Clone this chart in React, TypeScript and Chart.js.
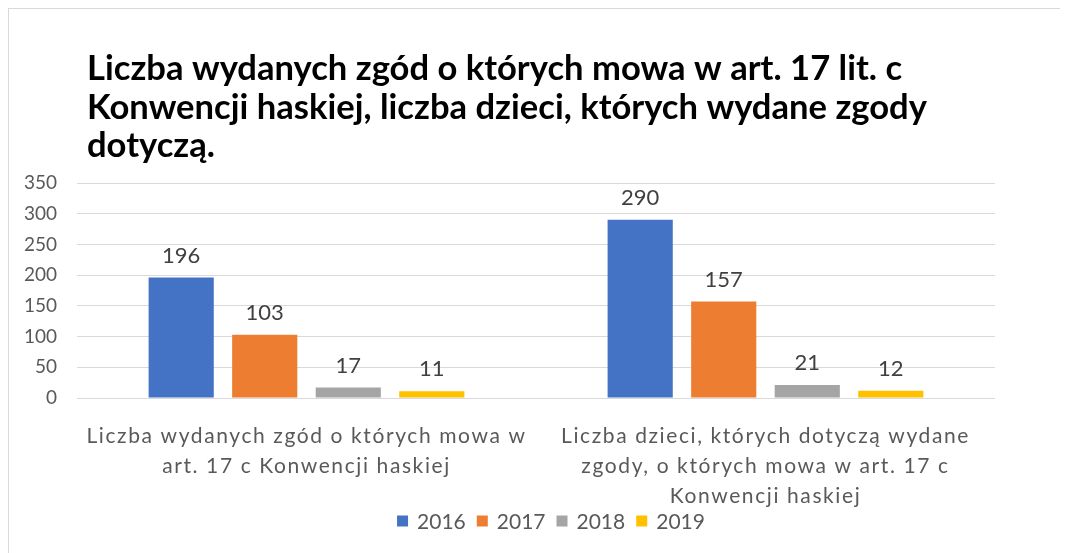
import React, { useEffect, useRef } from "react";
import { Chart, registerables } from "chart.js";

Chart.register(...registerables);

const TITLE_LINES = [
  "Liczba wydanych zgód o których mowa w art. 17 lit. c",
  "Konwencji haskiej, liczba dzieci, których wydane zgody",
  "dotyczą.",
];
const CATEGORIES = [
  ["Liczba wydanych zgód o których mowa w", "art. 17 c Konwencji haskiej"],
  ["Liczba dzieci, których dotyczą wydane", "zgody, o których mowa w art. 17 c", "Konwencji haskiej"],
];
const YEARS = ["2016", "2017", "2018", "2019"];
const VALUES_2016 = [196, 290];
const VALUES_2017 = [103, 157];
const VALUES_2018 = [17, 21];
const VALUES_2019 = [11, 12];
const SERIES = [VALUES_2016, VALUES_2017, VALUES_2018, VALUES_2019];
const COLORS = ["#4472C4", "#ED7D31", "#A5A5A5", "#FFC000"];
const Y_MIN = 0;
const Y_MAX = 350;
const Y_STEP = 50;

const FONT = "Lato";

const titlePlugin = {
  id: "leftTitle",
  afterDraw(chart: any) {
    const ctx = chart.ctx;
    ctx.save();
    ctx.letterSpacing = "0px";
    ctx.font = `bold 34.6px ${FONT}`;
    ctx.fillStyle = "#000000";
    ctx.textAlign = "left";
    ctx.textBaseline = "middle";
    TITLE_LINES.forEach((line, i) => {
      ctx.fillText(line, 78, 60 + i * 38.5);
    });
    ctx.restore();
  },
};

const legendPlugin = {
  id: "manualLegend",
  afterDraw(chart: any) {
    const ctx = chart.ctx;
    ctx.save();
    ctx.letterSpacing = "0px";
    ctx.font = `21px ${FONT}`;
    ctx.textBaseline = "middle";
    ctx.textAlign = "left";
    const box = 11;
    const gap = 9;
    const spacing = 11;
    const items = chart.data.datasets.map((ds: any) => ({
      label: ds.label,
      color: ds.backgroundColor,
      w: ctx.measureText(ds.label).width,
    }));
    const total =
      items.reduce((a: number, it: any) => a + box + gap + it.w, 0) + spacing * (items.length - 1);
    let x = 542 - total / 2;
    const cy = 512;
    items.forEach((it: any) => {
      ctx.fillStyle = it.color;
      ctx.fillRect(x, cy - box / 2, box, box);
      x += box + gap;
      ctx.fillStyle = "#595959";
      ctx.fillText(it.label, x, cy + 1);
      x += it.w + spacing;
    });
    ctx.restore();
  },
};

const valueLabelsPlugin = {
  id: "valueLabels",
  afterDatasetsDraw(chart: any) {
    const ctx = chart.ctx;
    ctx.save();
    ctx.font = `22px ${FONT}`;
    ctx.fillStyle = "#404040";
    ctx.textAlign = "center";
    ctx.textBaseline = "middle";
    chart.data.datasets.forEach((ds: any, di: number) => {
      const meta = chart.getDatasetMeta(di);
      meta.data.forEach((bar: any, i: number) => {
        ctx.fillText(String(ds.data[i]), bar.x, bar.y - 22);
      });
    });
    ctx.restore();
    // wider letter spacing for the category axis labels (their layer is drawn after the datasets)
    chart.ctx.letterSpacing = "1.6px";
  },
  afterDraw(chart: any) {
    chart.ctx.letterSpacing = "0px";
  },
};

export default function App() {
  const ref = useRef<HTMLCanvasElement | null>(null);
  useEffect(() => {
    if (!ref.current) return;
    Chart.defaults.font.family = FONT;
    const chart = new Chart(ref.current, {
      type: "bar",
      data: {
        labels: CATEGORIES,
        datasets: YEARS.map((y, i) => ({
          label: y,
          data: SERIES[i],
          backgroundColor: COLORS[i],
          borderWidth: 0,
          categoryPercentage: 0.728,
          barPercentage: 0.78,
        })),
      },
      options: {
        animation: false,
        responsive: false,
        maintainAspectRatio: false,
        layout: { padding: { top: 174, right: 73, left: 0, bottom: 42 } },
        plugins: {
          title: { display: false },
          tooltip: { enabled: false },
          legend: { display: false },
        },
        scales: {
          x: {
            grid: { display: false, drawTicks: false },
            border: { display: false },
            ticks: {
              z: 1,
              color: "#595959",
              font: { size: 21, family: FONT, lineHeight: 1.43 },
              padding: 23,
              maxRotation: 0,
              autoSkip: false,
            },
            afterFit: (s: any) => {
              s.height = 113;
            },
          },
          y: {
            min: Y_MIN,
            max: Y_MAX,
            grid: { color: "#D9D9D9", lineWidth: 1, drawTicks: false },
            border: { display: false },
            ticks: {
              stepSize: Y_STEP,
              color: "#595959",
              font: { size: 19, family: FONT },
              padding: 20,
            },
            afterFit: (s: any) => {
              s.width = 68;
            },
          },
        },
      },
      plugins: [titlePlugin, valueLabelsPlugin, legendPlugin],
    });
    return () => chart.destroy();
  }, []);

  return (
    <div
      style={{
        width: 1060,
        height: 545,
        boxSizing: "border-box",
        borderTop: "1px solid #D9D9D9",
        borderLeft: "1px solid #D9D9D9",
        background: "#ffffff",
        overflow: "hidden",
      }}
    >
      <canvas ref={ref} width={1059} height={544} style={{ display: "block" }} />
    </div>
  );
}
